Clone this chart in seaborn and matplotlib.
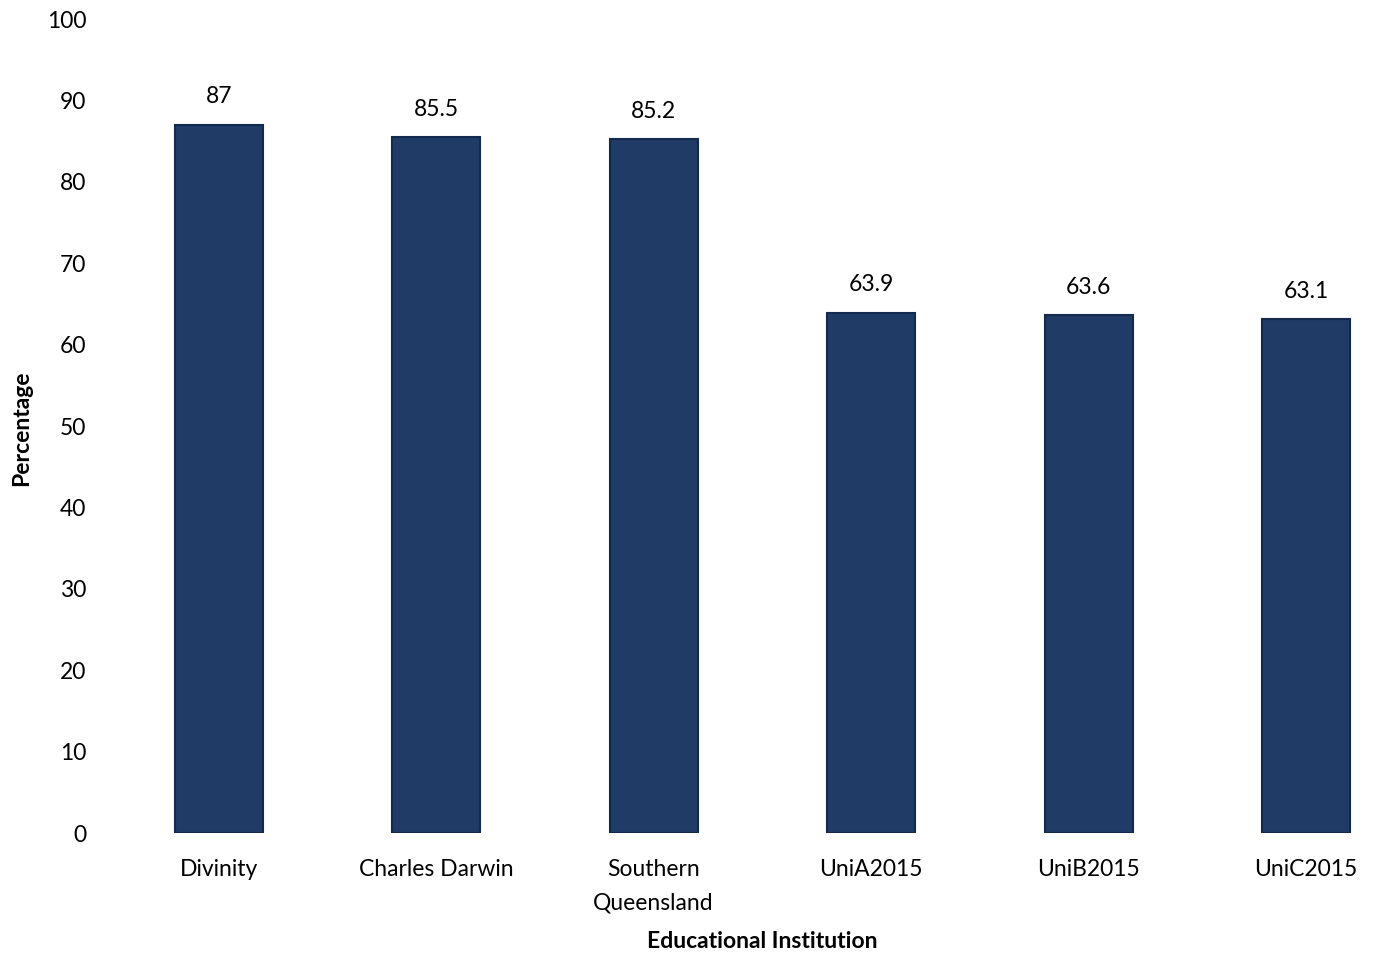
import matplotlib
matplotlib.use("Agg")
import matplotlib.pyplot as plt
import seaborn as sns
import pandas as pd

institutions = ["Divinity", "Charles Darwin", "Southern\nQueensland", "UniA2015", "UniB2015", "UniC2015"]
percentages = [87, 85.5, 85.2, 63.9, 63.6, 63.1]
value_labels = ["87", "85.5", "85.2", "63.9", "63.6", "63.1"]
y_ticks = [0, 10, 20, 30, 40, 50, 60, 70, 80, 90, 100]

sns.set_theme(style="white")
plt.rcParams['font.family'] = ['Lato', 'DejaVu Sans']
plt.rcParams['text.color'] = 'black'
plt.rcParams['axes.labelcolor'] = 'black'
plt.rcParams['xtick.color'] = 'black'
plt.rcParams['ytick.color'] = 'black'

df = pd.DataFrame({"Institution": institutions, "Percentage": percentages})

fig = plt.figure(figsize=(13.75, 9.55), dpi=100)
ax = fig.add_axes([0.08, 0.1277, 0.92, 0.8524])

sns.barplot(data=df, x="Institution", y="Percentage", ax=ax, color="#1F3B66",
            width=0.405, edgecolor="#142a4c", linewidth=1.5, saturation=1)

FS = 16.5
for p, lab in zip(ax.patches, value_labels):
    ax.annotate(lab, (p.get_x() + p.get_width() / 2, p.get_height()),
                xytext=(0, 28), textcoords="offset pixels",
                ha="center", va="center", fontsize=FS, color="black")

ax.set_ylim(0, 100)
ax.set_xlim(-0.5, 5.317)
ax.set_yticks(y_ticks)
ax.set_yticklabels([str(t) for t in y_ticks], fontsize=FS)
ax.tick_params(axis="x", labelsize=FS, length=0, pad=19, labelcolor="black")
for t in ax.get_xticklabels():
    t.set_linespacing(1.7)
ax.tick_params(axis="y", length=0, pad=17, labelcolor="black")
for s in ax.spines.values():
    s.set_visible(False)

ax.set_xlabel("Educational Institution", fontsize=FS, fontweight="bold", color="black")
ax.set_ylabel("Percentage", fontsize=FS, fontweight="bold", color="black")
ax.xaxis.set_label_coords((762 - 110) / 1265, -(941 - 833) / 814)
ax.yaxis.set_label_coords(-(110 - 22) / 1265, (833 - 428) / 814)
ax.xaxis.label.set_va("center")
ax.yaxis.label.set_va("center")

fig.savefig("out.png", dpi=100)
